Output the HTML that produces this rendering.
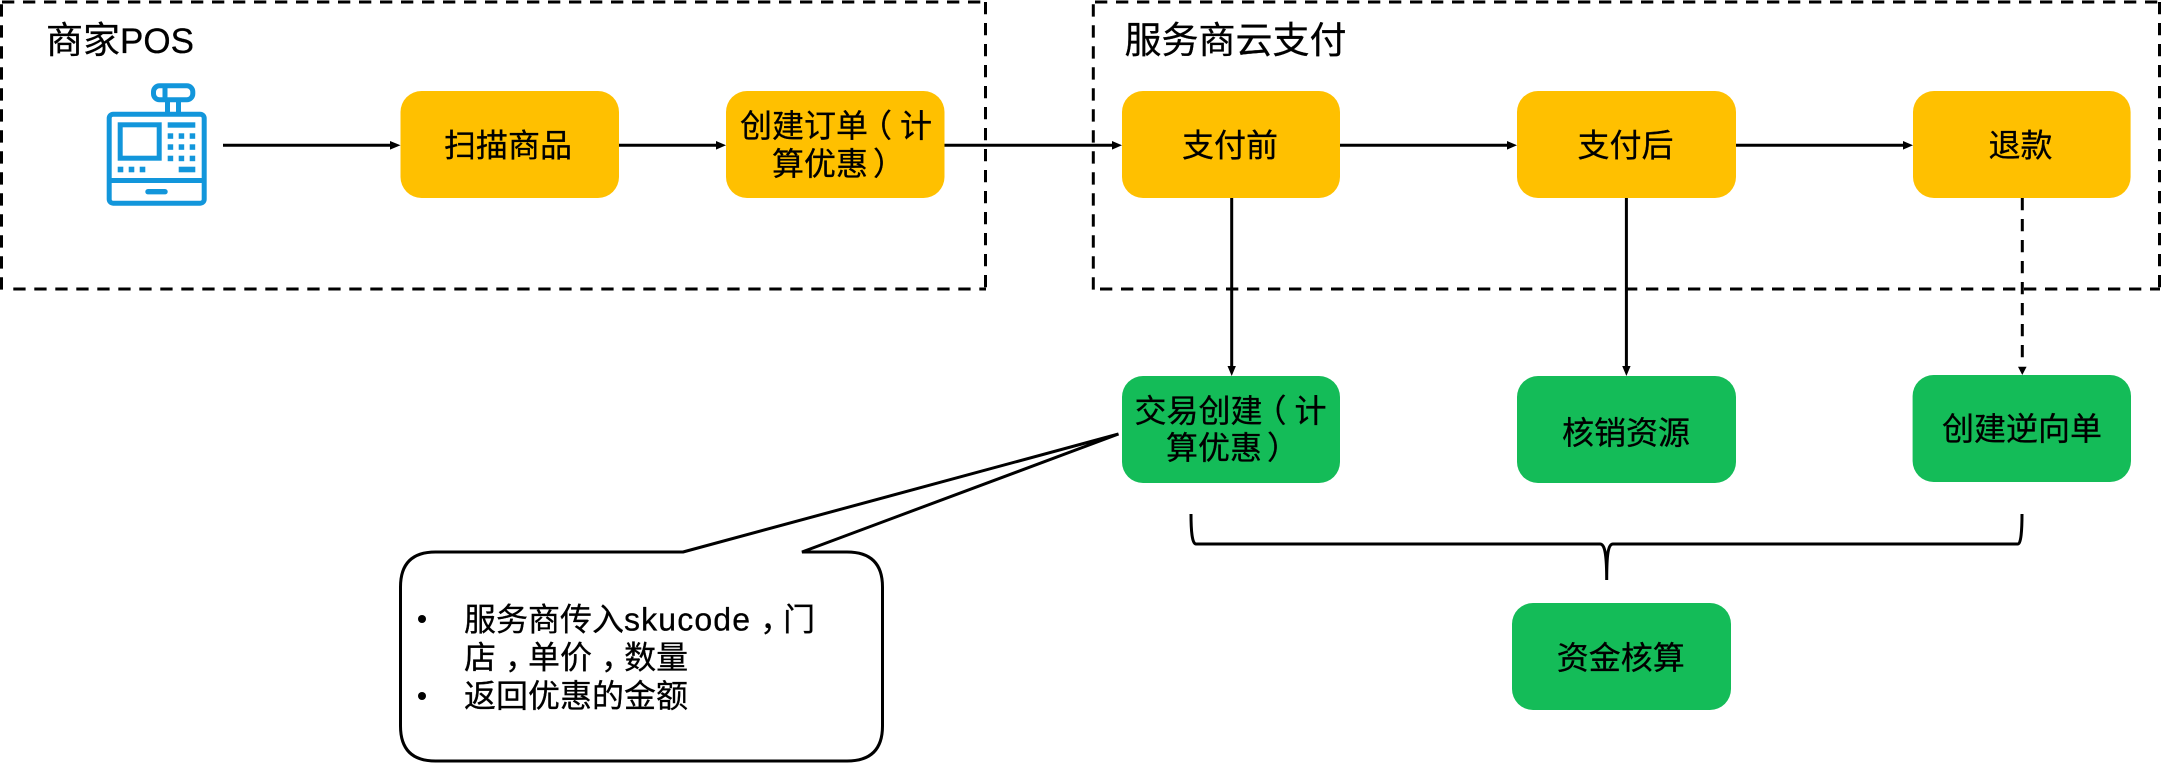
<!DOCTYPE html>
<html>
<head>
<meta charset="utf-8">
<style>
html,body{margin:0;padding:0;background:#fff;width:2161px;height:763px;overflow:hidden}
svg{display:block}
text{font-family:"Liberation Sans","Noto Sans CJK SC",sans-serif;font-size:32px;fill:#000;stroke:#000;stroke-width:.3px}
.t{font-size:37px}
</style>
</head>
<body>
<svg width="2161" height="763" viewBox="0 0 2161 763" xmlns="http://www.w3.org/2000/svg">
<!-- dashed containers -->
<g stroke="#000" stroke-width="3" stroke-dasharray="12.3 8.7" fill="none">
<line x1="1.5" y1="289.6" x2="1.5" y2="1"/>
<line x1="13.3" y1="289" x2="986" y2="289"/>
<line x1="2" y1="2" x2="986" y2="2"/>
<line x1="985.5" y1="2" x2="985.5" y2="289"/>
<line x1="1093.3" y1="289.6" x2="1093.3" y2="1"/>
<line x1="1095" y1="2" x2="2160" y2="2"/>
<line x1="1100" y1="289" x2="2160" y2="289"/>
<line x1="2159.5" y1="2" x2="2159.5" y2="289"/>
</g>
<!-- orange boxes -->
<g fill="#FFC000">
<rect x="400.5" y="91" width="218.5" height="107" rx="21"/>
<rect x="726" y="91" width="218.5" height="107" rx="21"/>
<rect x="1122" y="91" width="218" height="107" rx="21"/>
<rect x="1517" y="91" width="219" height="107" rx="21"/>
<rect x="1913" y="91" width="217.6" height="107" rx="21"/>
</g>
<!-- green boxes -->
<g fill="#14BC58">
<rect x="1122" y="376" width="218" height="107" rx="21"/>
<rect x="1517" y="376" width="219" height="107" rx="21"/>
<rect x="1912.6" y="375" width="218.4" height="107" rx="21"/>
<rect x="1512" y="603" width="219" height="107" rx="21"/>
</g>
<!-- connectors -->
<g stroke="#000" stroke-width="3" fill="none">
<line x1="223" y1="145.3" x2="392" y2="145.3"/>
<line x1="619" y1="145.3" x2="718" y2="145.3"/>
<line x1="944.5" y1="145.3" x2="1114" y2="145.3"/>
<line x1="1340" y1="145.3" x2="1509" y2="145.3"/>
<line x1="1736" y1="145.3" x2="1905" y2="145.3"/>
<line x1="1231.7" y1="198" x2="1231.7" y2="368"/>
<line x1="1626.4" y1="198" x2="1626.4" y2="368"/>
<line x1="2022.3" y1="198" x2="2022.3" y2="358" stroke-dasharray="12.3 8.7"/>
</g>
<g fill="#000">
<polygon points="390,141 400.5,145.3 390,149.6"/>
<polygon points="716,141 726,145.3 716,149.6"/>
<polygon points="1112,141 1122,145.3 1112,149.6"/>
<polygon points="1507,141 1517,145.3 1507,149.6"/>
<polygon points="1903,141 1913,145.3 1903,149.6"/>
<polygon points="1227.5,366 1231.7,376 1235.9,366"/>
<polygon points="1622.2,366 1626.4,376 1630.6,366"/>
<polygon points="2018,366.7 2022.3,375 2026.6,366.7"/>
</g>
<!-- brace -->
<path d="M1191,514 C1191,530 1192,544 1196,544 L1600,544 C1605,544 1606.7,555 1606.7,580 C1606.7,555 1608,544 1613,544 L2018,544 C2021,544 2022,530 2022,514" fill="none" stroke="#000" stroke-width="3"/>
<!-- callout -->
<path d="M683,552 L1118.5,434 L802,552 L847,552 Q882.5,552 882.5,587 L882.5,726 Q882.5,761 847,761 L435.5,761 Q400.5,761 400.5,726 L400.5,587 Q400.5,552 435.5,552 Z" fill="#fff" stroke="#000" stroke-width="3" stroke-linejoin="miter"/>
<circle cx="422" cy="619" r="4" fill="#000"/>
<circle cx="422" cy="696" r="4" fill="#000"/>
<!-- POS icon -->
<g fill="none" stroke="#1296DB" stroke-width="5">
<rect x="109.2" y="114.2" width="95" height="89" rx="4"/>
<line x1="107" y1="180.5" x2="206" y2="180.5"/>
<rect x="120.2" y="124.8" width="39" height="33.4"/>
<rect x="153.5" y="85.8" width="39.3" height="14" rx="6"/>
<line x1="165" y1="86" x2="165" y2="99"/>
<line x1="167.5" y1="99" x2="167.5" y2="112"/>
<line x1="178.5" y1="99" x2="178.5" y2="112"/>
</g>
<g fill="#1296DB">
<rect x="167.7" y="122.3" width="27.6" height="5.4"/>
<rect x="167.7" y="133.3" width="5.5" height="5.5"/><rect x="178.7" y="133.3" width="5.5" height="5.5"/><rect x="189.7" y="133.3" width="5.5" height="5.5"/>
<rect x="167.7" y="144.3" width="5.5" height="5.5"/><rect x="178.7" y="144.3" width="5.5" height="5.5"/><rect x="189.7" y="144.3" width="5.5" height="5.5"/>
<rect x="167.7" y="155.7" width="5.5" height="5.5"/><rect x="178.7" y="155.7" width="5.5" height="5.5"/><rect x="189.7" y="155.7" width="5.5" height="5.5"/>
<rect x="117.7" y="166.7" width="5.6" height="5.6"/><rect x="128.7" y="166.7" width="5.6" height="5.6"/><rect x="139.7" y="166.7" width="5.6" height="5.6"/>
<rect x="178.7" y="166.7" width="16.6" height="5.6"/>
<rect x="145.3" y="189" width="22.4" height="5.4" rx="2.7"/>
</g>
<!-- labels -->
<text class="t" x="46" y="53">商家<tspan style="font-size:35px">POS</tspan></text>
<text class="t" x="1124.5" y="53">服务商云支付</text>
<text x="444" y="156.5">扫描商品</text>
<text x="740" y="137">创建订单<tspan dx="-8">（</tspan><tspan dx="8">计</tspan></text>
<text x="772" y="175">算优惠<tspan dx="5">）</tspan></text>
<text x="1182" y="156.5">支付前</text>
<text x="1577.5" y="156.5">支付后</text>
<text x="1988.5" y="156.5">退款</text>
<text x="1134.5" y="422">交易创建<tspan dx="-8">（</tspan><tspan dx="8">计</tspan></text>
<text x="1166" y="459">算优惠<tspan dx="5">）</tspan></text>
<text x="1562" y="444">核销资源</text>
<text x="1942" y="440">创建逆向单</text>
<text x="1556.7" y="669">资金核算</text>
<text x="464" y="630.5">服务商传入<tspan textLength="126">skucode</tspan><tspan dx="9">，</tspan><tspan dx="-9">门</tspan></text>
<text x="464" y="668.5">店<tspan dx="9">，</tspan><tspan dx="-9">单价</tspan><tspan dx="9">，</tspan><tspan dx="-9">数量</tspan></text>
<text x="464" y="707">返回优惠的金额</text>
</svg>
</body>
</html>
